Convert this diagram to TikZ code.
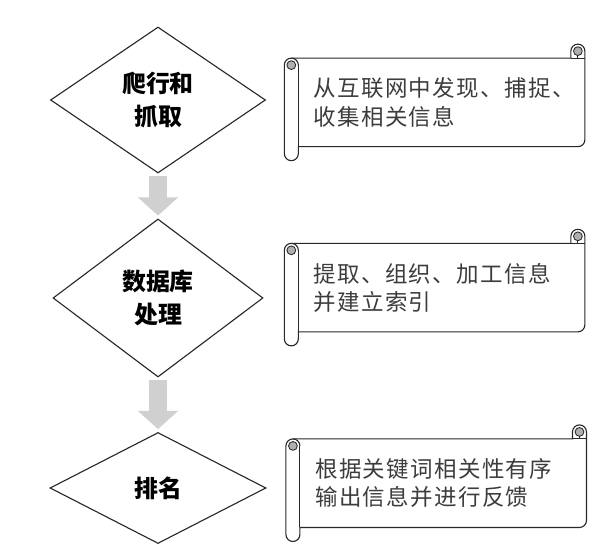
\documentclass[tikz,border=0pt]{standalone}
\usepackage{fontspec}
\newfontfamily\cjkfont{Noto Sans CJK SC}
\newfontfamily\cjknotefont{Noto Sans CJK SC}[LetterSpace=6]
\definecolor{lineblack}{RGB}{40,40,40}
\definecolor{textgray}{RGB}{60,60,60}
\definecolor{arrowgray}{RGB}{208,208,208}
\definecolor{curlgray}{RGB}{175,175,175}
\usetikzlibrary{arrows.meta,positioning,shapes.geometric,calc}

\tikzset{
  stepdiamond/.style={diamond, draw=lineblack, line width=0.8pt, inner sep=0pt, align=center,
    font=\cjkfont\bfseries\fontsize{17pt}{24pt}\selectfont},
  scrollbody/.style={rectangle, minimum width=7.15cm, minimum height=2.2cm, text width=6.4cm,
    inner xsep=0.375cm, align=left, text=textgray, font=\cjknotefont\fontsize{16pt}{20pt}\selectfont},
  scrollline/.style={draw=lineblack, line width=0.8pt},
  scrollcurl/.style={draw=lineblack, fill=curlgray, line width=0.6pt},
  flowarrow/.style={line width=13pt, draw=arrowgray, -{Triangle[width=28pt,length=13pt]},
    shorten <=1.5pt, shorten >=2pt},
}

% rolled paper round a body node
\newcommand{\scrollframe}[1]{%
  \draw[scrollline]
    ([xshift=-1.75mm]#1.north west) -- ([xshift=-3.5mm]#1.north east)
    -- ++(0,1.75mm) arc[start angle=180,end angle=0,radius=1.75mm]
    -- ([yshift=1.75mm]#1.south east) arc[start angle=0,end angle=-90,radius=1.75mm]
    -- (#1.south west) -- ([yshift=-1.75mm]#1.south west)
    arc[start angle=0,end angle=-180,radius=1.75mm]
    -- ([xshift=-3.5mm,yshift=-1.75mm]#1.north west)
    arc[start angle=180,end angle=90,radius=1.75mm] -- cycle;
  \draw[scrollline] ([yshift=-1.75mm]#1.north west) -- (#1.south west);
  \draw[scrollline] ([yshift=-1.75mm]#1.north west) arc[start angle=0,end angle=90,radius=1.75mm];
  \draw[scrollline] ([xshift=-3.5mm]#1.north east) -- (#1.north east);
  \draw[scrollline] ([xshift=-1.75mm]#1.north east) -- ++(0,1.75mm);
  \filldraw[scrollcurl] ([xshift=-1.75mm,yshift=-1.75mm]#1.north west) circle[radius=1.1mm];
  \filldraw[scrollcurl] ([xshift=-1.75mm,yshift=1.75mm]#1.north east) circle[radius=1.1mm];
}

\begin{document}
\begin{tikzpicture}
  \useasboundingbox (0,0) rectangle (15.325,-13.95);

  %% --- STEPS (left column) ---
  \node[stepdiamond, minimum width=5.375cm, minimum height=3.65cm]  (crawl)  at (3.95,-2.50)  {爬行和\\抓取};
  \node[stepdiamond, minimum width=5.25cm,  minimum height=3.95cm]  (index)  at (3.95,-7.45)  {数据库\\处理};
  \node[stepdiamond, minimum width=5.4cm,   minimum height=2.775cm] (rank)   at (3.95,-12.20) {排名};

  \draw[flowarrow] (crawl.south) -- (index.north);
  \draw[flowarrow] (index.south) -- (rank.north);

  %% --- NOTES (right column) ---
  \node[scrollbody] (crawlnote) at (11.04,-2.56)  {从互联网中发现、捕捉、\\收集相关信息};
  \node[scrollbody] (indexnote) at (11.04,-7.19)  {提取、组织、加工信息\\并建立索引};
  \node[scrollbody] (ranknote)  at (11.08,-12.08) {根据关键词相关性有序\\输出信息并进行反馈};

  \scrollframe{crawlnote}
  \scrollframe{indexnote}
  \scrollframe{ranknote}
\end{tikzpicture}
\end{document}
